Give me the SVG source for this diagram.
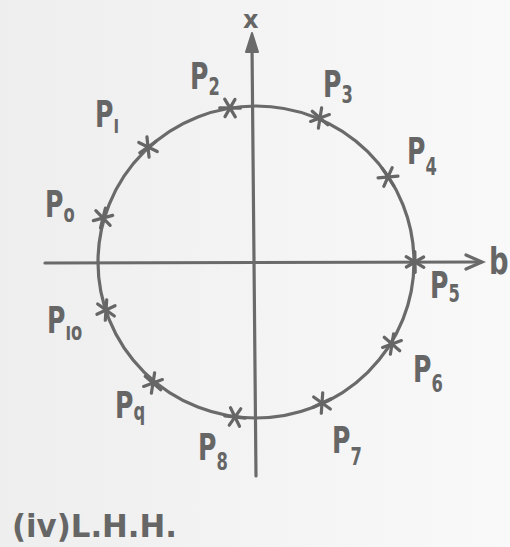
<svg xmlns="http://www.w3.org/2000/svg" width="510" height="547" viewBox="0 0 510 547">
<defs>
<linearGradient id="bg" x1="0" y1="0" x2="1" y2="0">
<stop offset="0" stop-color="#eeeeee"/>
<stop offset="1" stop-color="#f9f9f9"/>
</linearGradient>
<g id="star">
<line x1="-10" y1="0" x2="10" y2="0"/>
<line x1="-5" y1="-9" x2="5" y2="9"/>
<line x1="5" y1="-9" x2="-5" y2="9"/>
</g>
</defs>
<style>
.ln{stroke:#6a6a6a;stroke-width:3.2;fill:none;stroke-linecap:round}
.mk{stroke:#666;stroke-width:3.2;stroke-linecap:round}
.lb{font-family:"DejaVu Sans","Liberation Sans",sans-serif;font-weight:bold;fill:#666;font-size:37px}
.s{font-size:24px}
.o{font-size:24px}
.ax{font-size:24px}
.bb{font-size:38px}
.cap{font-size:32px}
</style>
<rect width="510" height="547" fill="url(#bg)"/>
<g id="connectors">
<line class="ln" x1="45" y1="263" x2="481" y2="262"/>
<polyline class="ln" points="466,255 482,262 466,269"/>
<line class="ln" x1="256" y1="476" x2="252" y2="45"/>
<path d="M252,33 L258,52 L246,52 Z" fill="#6a6a6a" stroke="#6a6a6a" stroke-width="2" stroke-linejoin="round"/>
<ellipse class="ln" cx="256" cy="262" rx="158" ry="156"/>
</g>
<g id="axis-x"><text class="lb ax" transform="translate(243,28)">x</text></g>
<g id="axis-b"><text class="lb bb" transform="translate(489,274) scale(0.72,1)">b</text></g>
<g id="P0"><use href="#star" class="mk" transform="translate(103,218) rotate(-15)"/><text class="lb" transform="translate(45,217) scale(0.68,1)">P<tspan class="o" dy="5">o</tspan></text></g>
<g id="P1"><use href="#star" class="mk" transform="translate(148,147) rotate(-35)"/><text class="lb" transform="translate(95,127) scale(0.68,1)">P<tspan class="s" dy="6">ı</tspan></text></g>
<g id="P2"><use href="#star" class="mk" transform="translate(230,108) rotate(-60)"/><text class="lb" transform="translate(190,89) scale(0.68,1)">P<tspan class="s" dy="6">2</tspan></text></g>
<g id="P3"><use href="#star" class="mk" transform="translate(320,118) rotate(-20)"/><text class="lb" transform="translate(323,97) scale(0.68,1)">P<tspan class="s" dy="6">3</tspan></text></g>
<g id="P4"><use href="#star" class="mk" transform="translate(388,177) rotate(-5)"/><text class="lb" transform="translate(407,164) scale(0.68,1)">P<tspan class="s" dy="11">4</tspan></text></g>
<g id="P5"><use href="#star" class="mk" transform="translate(415,262) rotate(-30)"/><text class="lb" transform="translate(430,298) scale(0.68,1)">P<tspan class="s" dy="4">5</tspan></text></g>
<g id="P6"><use href="#star" class="mk" transform="translate(392,344) rotate(-20)"/><text class="lb" transform="translate(413,382) scale(0.68,1)">P<tspan class="s" dy="10">6</tspan></text></g>
<g id="P7"><use href="#star" class="mk" transform="translate(322,403) rotate(-25)"/><text class="lb" transform="translate(332,453) scale(0.68,1)">P<tspan class="s" dy="12">7</tspan></text></g>
<g id="P8"><use href="#star" class="mk" transform="translate(235,417) rotate(-55)"/><text class="lb" transform="translate(198,460) scale(0.68,1)">P<tspan class="s" dy="10">8</tspan></text></g>
<g id="P9"><use href="#star" class="mk" transform="translate(153,383) rotate(-20)"/><text class="lb" transform="translate(115,418) scale(0.68,1)">P<tspan class="s" dy="2">q</tspan></text></g>
<g id="P10"><use href="#star" class="mk" transform="translate(106,310) rotate(-25)"/><text class="lb" transform="translate(47,333) scale(0.68,1)">P<tspan class="s" dy="7">ıo</tspan></text></g>
<g id="caption"><text class="lb cap" x="12" y="537" textLength="165" lengthAdjust="spacingAndGlyphs">(iv)L.H.H.</text></g>
</svg>
